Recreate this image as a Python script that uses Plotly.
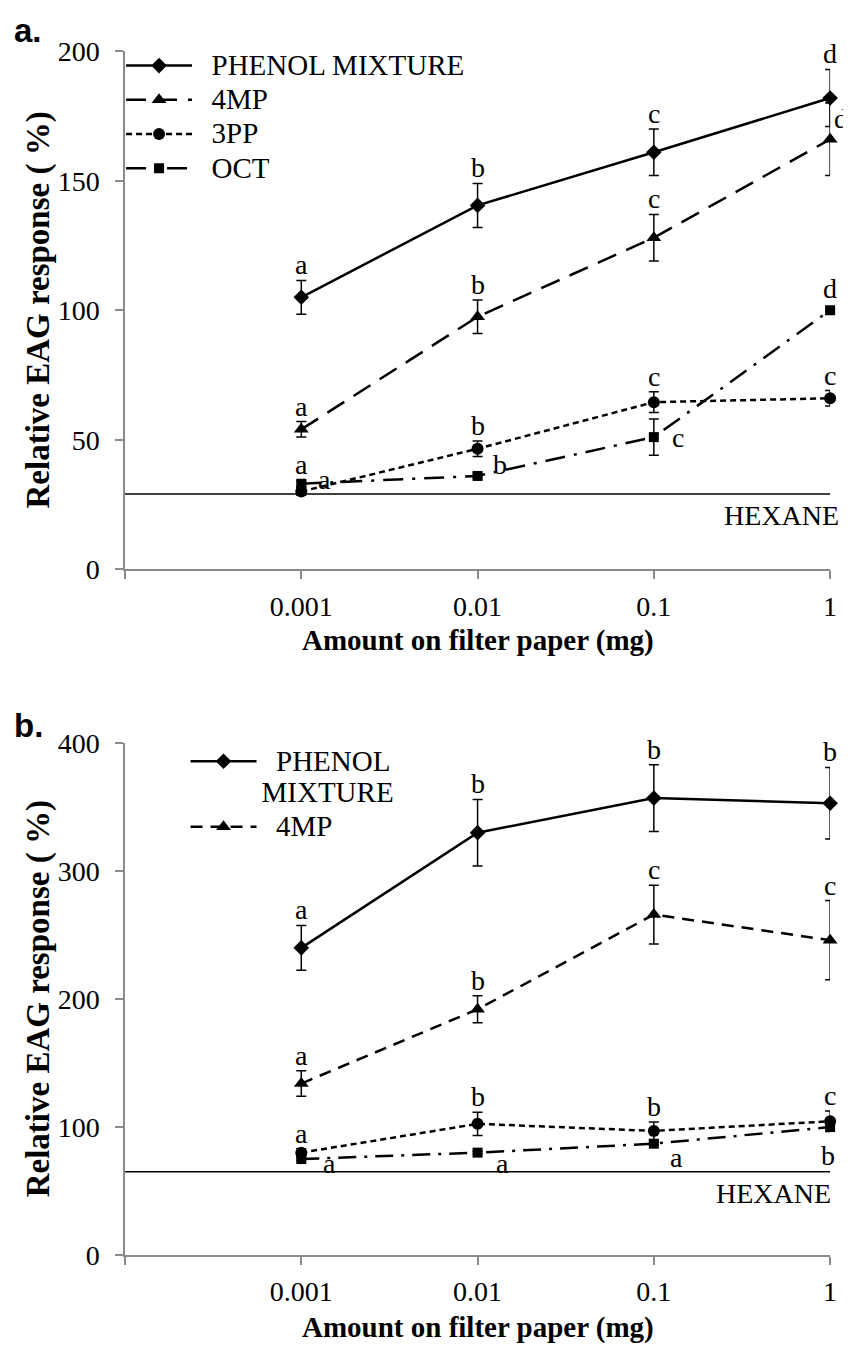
import plotly.graph_objects as go

SERIF = "Liberation Serif"
SANS = "Liberation Sans"
AXIS_GRAY = "#8a8a8a"

# ---------------- data ----------------
x_tick_labels = ["", "0.001", "0.01", "0.1", "1"]
x_index = [1, 2, 3, 4]  # category positions of 0.001, 0.01, 0.1, 1 mg

# Panel a
phenol_a = [105, 140.5, 161, 182]
phenol_a_err = [6.5, 8.5, 9, 11]
mp4_a = [54, 97.5, 128, 166]
mp4_a_err = [3, 6.5, 9, 14]
pp3_a = [30, 46.5, 64.5, 66]
pp3_a_err = [1.5, 3, 4, 3]
oct_a = [33, 36, 51, 100]
oct_a_err = [1, 1, 7, 0]
hexane_a = 29

# Panel b
phenol_b = [240, 330, 357, 353]
phenol_b_err = [17.5, 26, 26, 28]
mp4_b = [134, 192, 266, 246]
mp4_b_err = [10, 10.5, 23, 31]
pp3_b = [80, 102.5, 97, 104.5]
pp3_b_err = [3, 9, 7, 8]
oct_b = [75, 80, 87, 100]
oct_b_err = [1, 1, 1, 1]
hexane_b = 65

# significance letters
letters_a = {
    "phenol": ["a", "b", "c", "d"],
    "mp4": ["a", "b", "c", "d"],
    "pp3": ["a", "b", "c", "c"],
    "oct": ["a", "b", "c", "d"],
}
letters_b = {
    "phenol": ["a", "b", "b", "b"],
    "mp4": ["a", "b", "c", "c"],
    "pp3": ["a", "b", "b", "c"],
    "oct": ["a", "a", "a", "b"],
}

# ---------------- layout geometry ----------------
# the page body adds an 8 px margin, so the figure is laid out 8 px up/left
OFF = 8
W, H = 851 - OFF, 1358 - OFF


def px(x):
    return (x - OFF) / W


def py(y):
    return 1 - (y - OFF) / H


X_DOM = [px(126), px(837)]
YA_DOM = [py(567), py(37)]
YB_DOM = [py(1269), py(745)]

LEG_FS = 24      # base legend font (sets row spacing)
TXT_FS = 29      # visible legend text size


def leg(name):
    return '<span style="font-size:%dpx">%s</span>' % (TXT_FS, name)


fig = go.Figure()


def add_series(x_ax, y_ax, y, err, name, symbol, msize, dash, legend, showlegend):
    fig.add_trace(go.Scatter(
        x=x_index, y=y, name=name, mode="lines+markers",
        xaxis=x_ax, yaxis=y_ax,
        line=dict(color="black", width=2.5, dash=dash),
        marker=dict(symbol=symbol, size=msize, color="black"),
        error_y=dict(type="data", array=err, visible=True, color="black",
                     thickness=1.5, width=5),
        cliponaxis=False, legend=legend, showlegend=showlegend,
    ))


NB = "\u00a0\u00a0"
# Panel a traces
add_series("x", "y", phenol_a, phenol_a_err, leg(NB + "PHENOL MIXTURE"), "diamond", 12, "solid", "legend", True)
add_series("x", "y", mp4_a, mp4_a_err, leg(NB + "4MP"), "triangle-up", 13, "20px,11px", "legend", True)
add_series("x", "y", pp3_a, pp3_a_err, leg(NB + "3PP"), "circle", 12, "6px,4px", "legend", True)
add_series("x", "y", oct_a, oct_a_err, leg(NB + "OCT"), "square", 10, "20px,9px,3px,9px", "legend", True)

# Panel b traces
add_series("x2", "y2", phenol_b, phenol_b_err, leg(NB + "PHENOL<br>MIXTURE"), "diamond", 12, "solid", "legend2", True)
add_series("x2", "y2", mp4_b, mp4_b_err, leg(NB + "4MP"), "triangle-up", 13, "12px,8px", "legend2", True)
add_series("x2", "y2", pp3_b, pp3_b_err, "3PP", "circle", 12, "6px,4px", "legend2", False)
add_series("x2", "y2", oct_b, oct_b_err, "OCT", "square", 10, "18px,8px,3px,8px", "legend2", False)

# ---------------- letter annotations ----------------
# placement: ("above", dy) or ("side", dx, dy, xanchor)
place_a = {
    "phenol": [("above", -2)] * 4,
    "mp4": [("above", -2), ("above", -2), ("above", -2), ("side", 2, 21, "left")],
    "pp3": [("above", 6), ("above", -2), ("above", -2), ("above", -2)],
    "oct": [("side", 15, 4, "left"), ("side", 13, 11, "left"), ("side", 16, 0, "left"), ("above", 4)],
}
place_b = {
    "phenol": [("above", -2)] * 4,
    "mp4": [("above", -2)] * 4,
    "pp3": [("above", -2)] * 4,
    "oct": [("side", 20, -4, "left"), ("side", 16, -11, "left"),
            ("side", 14, -14, "left"), ("side", -2, -28, "center")],
}
vals_a = {"phenol": (phenol_a, phenol_a_err), "mp4": (mp4_a, mp4_a_err),
          "pp3": (pp3_a, pp3_a_err), "oct": (oct_a, oct_a_err)}
vals_b = {"phenol": (phenol_b, phenol_b_err), "mp4": (mp4_b, mp4_b_err),
          "pp3": (pp3_b, pp3_b_err), "oct": (oct_b, oct_b_err)}

annotations = []
LET_FONT = dict(family=SERIF, size=28, color="black")


def add_letters(letters, vals, place, xref, yref):
    for key, labs in letters.items():
        ys, es = vals[key]
        for i, lab in enumerate(labs):
            p = place[key][i]
            if p[0] == "above":
                annotations.append(dict(
                    x=x_index[i], y=ys[i] + es[i], xref=xref, yref=yref,
                    text=lab, showarrow=False, xanchor="center", yanchor="bottom",
                    yshift=p[1], font=LET_FONT))
            else:
                annotations.append(dict(
                    x=x_index[i], y=ys[i], xref=xref, yref=yref,
                    text=lab, showarrow=False, xanchor=p[3], yanchor="middle",
                    xshift=p[1], yshift=p[2], font=LET_FONT))


add_letters(letters_a, vals_a, place_a, "x", "y")
add_letters(letters_b, vals_b, place_b, "x2", "y2")

# HEXANE labels and lines
for yref, xref, hv, xs in (("y", "x domain", hexane_a, 11), ("y2", "x2 domain", hexane_b, 3)):
    annotations.append(dict(x=1, y=hv, xref=xref, yref=yref, text="HEXANE", showarrow=False,
                            xanchor="right", yanchor="top", xshift=xs, yshift=-4,
                            font=dict(family=SERIF, size=28, color="black")))

shapes = [
    dict(type="line", xref="x domain", yref="y", x0=0, x1=1, y0=hexane_a, y1=hexane_a,
         line=dict(color="black", width=1.5)),
    dict(type="line", xref="x2 domain", yref="y2", x0=0, x1=1, y0=hexane_b, y1=hexane_b,
         line=dict(color="black", width=1.5)),
]

# axis titles and panel labels
xmid = (X_DOM[0] + X_DOM[1]) / 2
for ytitle_center, xtitle_y in ((302, 640), (1007, 1343)):
    annotations.append(dict(x=px(38.5), y=py(ytitle_center), xref="paper", yref="paper",
                            text="<b>Relative EAG response ( %)</b>", textangle=-90, showarrow=False,
                            xanchor="center", yanchor="middle",
                            font=dict(family=SERIF, size=33, color="black")))
    annotations.append(dict(x=xmid, y=py(xtitle_y), xref="paper", yref="paper",
                            text="<b>Amount on filter paper (mg)</b>", showarrow=False,
                            xanchor="center", yanchor="middle",
                            font=dict(family=SERIF, size=29, color="black")))
for lab, yc in (("a.", 16), ("b.", 727)):
    annotations.append(dict(x=px(12), y=py(yc), xref="paper", yref="paper",
                            text="<b>" + lab + "</b>", showarrow=False,
                            xanchor="left", yanchor="middle",
                            font=dict(family=SANS, size=33, color="black")))

xaxis_common = dict(
    range=[0, 4], tickmode="array", tickvals=[0, 1, 2, 3, 4], ticktext=x_tick_labels,
    showgrid=False, zeroline=False, showline=True, linecolor=AXIS_GRAY, linewidth=1.5,
    ticks="outside", ticklen=8, tickcolor=AXIS_GRAY, tickwidth=1.5,
    tickfont=dict(family=SERIF, size=28, color="black"), ticklabelstandoff=3,
    domain=X_DOM, fixedrange=True,
)
yaxis_common = dict(
    showgrid=False, zeroline=False, showline=True, linecolor=AXIS_GRAY, linewidth=1.5,
    ticks="outside", ticklen=8, tickcolor=AXIS_GRAY, tickwidth=1.5,
    tickfont=dict(family=SERIF, size=28, color="black"), ticklabelstandoff=10,
    fixedrange=True,
)

fig.update_layout(
    width=W, height=H,
    margin=dict(l=0, r=0, t=0, b=0),
    paper_bgcolor="white", plot_bgcolor="white",
    font=dict(family=SERIF, color="black"),
    xaxis=dict(xaxis_common, anchor="y"),
    yaxis=dict(yaxis_common, range=[0, 200], dtick=50, domain=YA_DOM, anchor="x"),
    xaxis2=dict(xaxis_common, anchor="y2"),
    yaxis2=dict(yaxis_common, range=[0, 400], dtick=100, domain=YB_DOM, anchor="x2"),
    legend=dict(x=px(122), y=py(29), xanchor="left", yanchor="top",
                bgcolor="rgba(0,0,0,0)", itemwidth=66, tracegroupgap=0,
                font=dict(family=SERIF, size=LEG_FS, color="black")),
    legend2=dict(x=px(187), y=py(741), xanchor="left", yanchor="top", valign="top",
                 bgcolor="rgba(0,0,0,0)", itemwidth=66, tracegroupgap=0,
                 font=dict(family=SERIF, size=LEG_FS, color="black")),
    annotations=annotations,
    shapes=shapes,
    showlegend=True,
)

fig.write_html("out.html")
